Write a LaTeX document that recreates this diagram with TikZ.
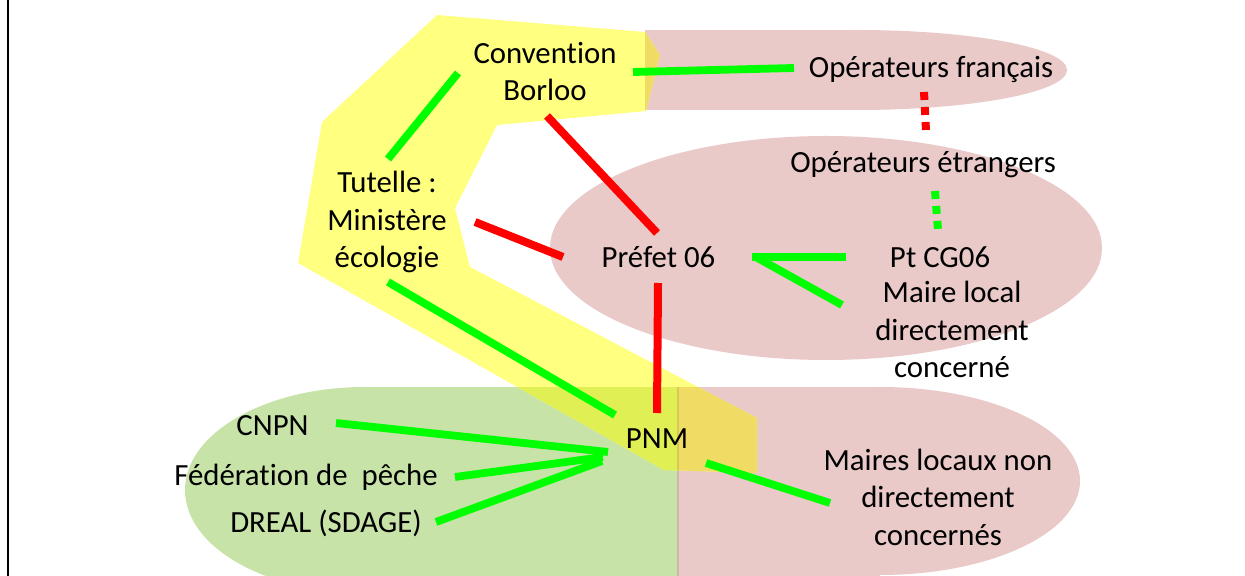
\documentclass[tikz,border=0pt]{standalone}
\usepackage{fontspec}
\setmainfont{Carlito}[Ligatures={NoCommon}]
\definecolor{pinkbg}{RGB}{234,201,201}
\definecolor{greenbg}{RGB}{199,227,168}
\definecolor{yellowbg}{RGB}{255,255,128}
\definecolor{pinkyel}{RGB}{240,220,100}
\definecolor{greenyel}{RGB}{224,240,84}
\definecolor{stripc}{RGB}{205,185,165}
\definecolor{stripyel}{RGB}{215,200,90}
\definecolor{lgreen}{RGB}{0,255,0}
\definecolor{lred}{RGB}{255,0,0}
\begin{document}
\begin{tikzpicture}[x=0.5pt,y=-0.5pt,
  lbl/.style={font=\fontsize{15.4}{18.75}\selectfont, inner sep=0pt, align=center, anchor=base},
  gline/.style={draw=lgreen, line width=3.9pt},
  rline/.style={draw=lred, line width=4pt},
  gdots/.style={draw=lgreen, line width=4pt, dash pattern=on 4pt off 3.5pt},
  rdots/.style={draw=lred, line width=4pt, dash pattern=on 4pt off 3.5pt}]
\useasboundingbox (0,0) rectangle (1245,576);
\clip (0,0) rectangle (1245,576);
\fill[white] (0,0) rectangle (1245,576);
% backgrounds
\begin{scope}
  \clip (645,0) rectangle (1245,576);
  \fill[pinkbg] (857,70) ellipse [x radius=105pt, y radius=20pt];
  \fill[pinkbg] (645,30) rectangle (857,110);
\end{scope}
\fill[pinkbg] (826,248) ellipse [x radius=138pt, y radius=56pt];
\begin{scope}
  \clip (0,0) rectangle (679,576);
  \fill[greenbg] (365,490) ellipse [x radius=90pt, y radius=51.5pt];
  \fill[greenbg] (365,387) rectangle (679,600);
\end{scope}
\begin{scope}
  \clip (677,0) rectangle (1245,576);
  \fill[pinkbg] (880,481) ellipse [x radius=100pt, y radius=47pt];
  \fill[pinkbg] (677,387) rectangle (880,600);
\end{scope}
\fill[stripc] (677,387) rectangle (679,600);
% yellow band
\fill[yellowbg] (437,15) -- (645,32) -- (660,55) -- (646,111) -- (497,125) -- (455,208) -- (470,267) -- (757,418) -- (757,473) -- (664,470) -- (298,263) -- (322,122) -- cycle;
\begin{scope}
  \clip (437,15) -- (645,32) -- (660,55) -- (646,111) -- (497,125) -- (455,208) -- (470,267) -- (757,418) -- (757,473) -- (664,470) -- (298,263) -- (322,122) -- cycle;
  \fill[pinkyel] (645,30) rectangle (857,110);
  \begin{scope}
    \clip (0,0) rectangle (679,576);
    \fill[greenyel] (365,490) ellipse [x radius=90pt, y radius=51.5pt];
    \fill[greenyel] (365,387) rectangle (679,600);
  \end{scope}
  \fill[pinkyel] (677,387) rectangle (880,600);
  \fill[stripyel] (677,387) rectangle (679,600);
\end{scope}
% frame line
\fill[black] (6.5,0) rectangle (8.5,576);
% labels (anchor=base = baseline of the last line)
\node[lbl] (conv) at (545,101) {Convention\\Borloo};
\node[lbl] (opfr) at (931,78) {Opérateurs français};
\node[lbl] (opet) at (923,173) {Opérateurs étrangers};
\node[lbl] (tut) at (387,268) {Tutelle :\\Ministère\\écologie};
\node[lbl] (pref) at (658.5,268) {Préfet 06};
\node[lbl] (cg) at (940,268) {Pt CG06};
\node[lbl] (maire) at (952,378) {Maire local\\directement\\concerné};
\node[lbl] (cnpn) at (272.5,435) {CNPN};
\node[lbl] (fed) at (306,485) {Fédération de\ \ pêche};
\node[lbl] (dreal) at (326,532) {DREAL (SDAGE)};
\node[lbl] (pnm) at (657,448) {PNM};
\node[lbl] (maires) at (938,545) {Maires locaux non\\directement\\concernés};
% connector ends
\coordinate (convSW) at (458,73);
\coordinate (tutN) at (388,159);
\coordinate (convE) at (633,72);
\coordinate (opfrW) at (794,68);
\coordinate (convS) at (547,116);
\coordinate (prefNW) at (657,233);
\coordinate (tutE) at (475,222);
\coordinate (prefW) at (563,257);
\coordinate (tutS) at (388,282);
\coordinate (pnmNW) at (615,415);
\coordinate (prefS) at (658,283);
\coordinate (pnmN) at (657,413);
\coordinate (cnpnE) at (336,423);
\coordinate (pnmW1) at (608,452);
\coordinate (fedE) at (455,477);
\coordinate (pnmW2) at (603,457);
\coordinate (drealE) at (436,522);
\coordinate (pnmW3) at (602,461);
\coordinate (pnmE) at (706,463);
\coordinate (mairesW) at (830,503);
\coordinate (prefE1) at (752,257);
\coordinate (prefE2) at (754,256);
\coordinate (cgW) at (846,257);
\coordinate (maireW) at (842,305);
\coordinate (opfrS) at (924,92);
\coordinate (opetN) at (926,131);
\coordinate (opetS) at (935,191);
\coordinate (cgN) at (938,230);
% connectors
\draw[gline] (convSW) -- (tutN);
\draw[gline] (convE) -- (opfrW);
\draw[rline] (convS) -- (prefNW);
\draw[rline] (tutE) -- (prefW);
\draw[gline] (tutS) -- (pnmNW);
\draw[rline] (prefS) -- (pnmN);
\draw[gline] (cnpnE) -- (pnmW1);
\draw[gline] (fedE) -- (pnmW2);
\draw[gline] (drealE) -- (pnmW3);
\draw[gline] (pnmE) -- (mairesW);
\draw[gline] (cgW) -- (prefE1);
\draw[gline] (maireW) -- (prefE2);
\draw[rdots] (opfrS) -- (opetN);
\draw[gdots] (opetS) -- (cgN);
\end{tikzpicture}
\end{document}
